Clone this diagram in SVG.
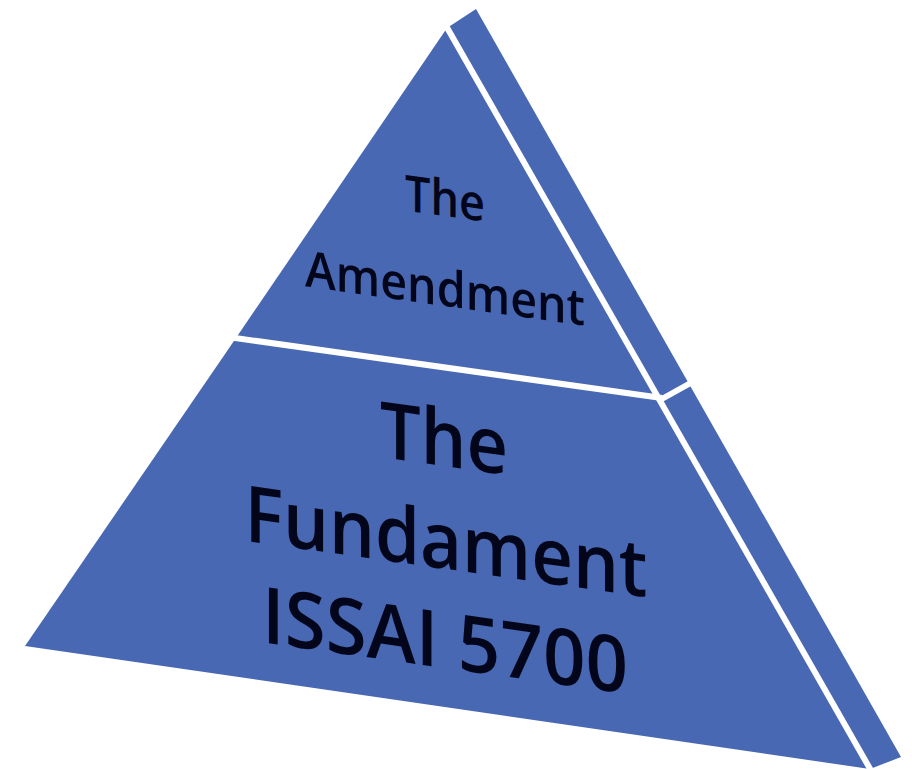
<svg xmlns="http://www.w3.org/2000/svg" width="912" height="769" viewBox="0 0 912 769">
<style>
.face{fill:#4868b4;}
.gap{stroke:#ffffff;stroke-width:6;stroke-linecap:butt;fill:none;}
.lbl{font-family:"Open Sans","Noto Sans","Liberation Sans",sans-serif;fill:#03061a;text-anchor:middle;font-weight:600;}
.big{font-size:78px;}
.small{font-size:50px;}
</style>
<rect width="912" height="769" fill="#ffffff"/>
<g id="side-face">
<polygon class="face" points="447,28 476,9 901,757 870,769"/>
</g>
<g id="tier-bottom">
<polygon class="face" points="236,338 663,398 870,769 25,646"/>
</g>
<g id="tier-top">
<polygon class="face" points="447,28 663,398 236,338"/>
</g>
<g id="connectors">
<line class="gap" x1="445" y1="24" x2="873" y2="774"/>
<line class="gap" x1="228" y1="337" x2="662" y2="398"/>
<line class="gap" x1="660" y1="400" x2="696" y2="380"/>
</g>
<g id="label-top">
<text class="lbl small" transform="translate(445,216) skewY(8)" x="0" y="0" textLength="80" lengthAdjust="spacingAndGlyphs">The</text>
<text class="lbl small" transform="translate(445,306) skewY(8)" x="0" y="0" textLength="280" lengthAdjust="spacingAndGlyphs">Amendment</text>
</g>
<g id="label-bottom">
<text class="lbl big" transform="translate(444,466) skewY(8)" x="0" y="0" textLength="128" lengthAdjust="spacingAndGlyphs">The</text>
<text class="lbl big" transform="translate(446,569) skewY(8)" x="0" y="0" textLength="403" lengthAdjust="spacingAndGlyphs">Fundament</text>
<text class="lbl big" transform="translate(445,668) skewY(8)" x="0" y="0" textLength="366" lengthAdjust="spacingAndGlyphs">ISSAI 5700</text>
</g>
</svg>
